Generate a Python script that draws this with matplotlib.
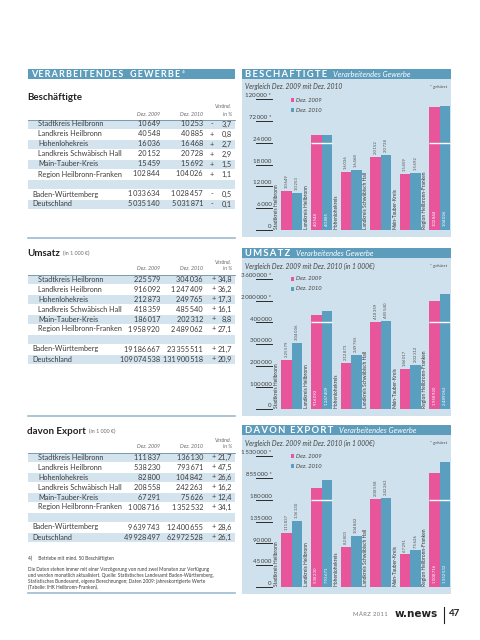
import matplotlib
matplotlib.use("Agg")
import matplotlib.pyplot as plt
import numpy as np
from matplotlib.patches import Rectangle

plt.rcParams['font.family'] = ['Liberation Sans Narrow', 'Lato', 'DejaVu Sans']

#_____Daten_____#
kreise = ["Stadtkreis Heilbronn", "Landkreis Heilbronn", "Hohenlohekreis",
          "Landkreis Schwäbisch Hall", "Main-Tauber-Kreis", "Region Heilbronn-Franken"]
laender = ["Baden-Württemberg", "Deutschland"]

besch_2009 = [10649, 40548, 16036, 20152, 15459, 102844, 1033634, 5035140]
besch_2010 = [10253, 40885, 16468, 20728, 15692, 104026, 1028457, 5031871]
besch_pct = [-3.7, 0.8, 2.7, 2.9, 1.5, 1.1, -0.5, -0.1]

umsatz_2009 = [225579, 916092, 212873, 418359, 186017, 1958920, 19186667, 109074538]
umsatz_2010 = [304036, 1247409, 249765, 485540, 202312, 2489062, 23355511, 131900518]
umsatz_pct = [34.8, 36.2, 17.3, 16.1, 8.8, 27.1, 21.7, 20.9]

export_2009 = [111837, 538230, 82800, 208558, 67291, 1008716, 9639743, 49928497]
export_2010 = [136130, 793671, 104842, 242263, 75626, 1352532, 12400655, 62972528]
export_pct = [21.7, 47.5, 26.6, 16.2, 12.4, 34.1, 28.6, 26.1]

# Achsen "gekürzt": die letzten zwei Ticks sind gestaucht
besch_ticks = [0, 6000, 12000, 18000, 24000, 72000, 120000]
umsatz_ticks = [0, 100000, 200000, 300000, 400000, 2000000, 3600000]
export_ticks = [0, 45000, 90000, 135000, 180000, 855000, 1530000]

#_____Farben_____#
HEAD = "#5e9cbb"
BG = "#cfe1ec"
STRIPE = "#d3e4ef"
PINK = "#e8559b"
BLUE = "#5a9fc0"
TXT = "#3c3c3c"
GRAY = "#6a6a6a"


def fmt(v):
    return "{:,}".format(int(v)).replace(",", "\u2009")


def spaced(s, sep="\u2009"):
    return sep.join(s)


fig = plt.figure(figsize=(4.8, 6.4), dpi=100)
page = fig.add_axes([0, 0, 1, 1])
page.set_xlim(0, 480)
page.set_ylim(640, 0)
page.axis("off")


#_____Tabellen links_____#
def draw_table(ty, title, unit, v09, v10, pct, sign_x):
    t = page.text(27, ty, title, fontsize=7, fontweight="bold", va="center", color="#222")
    if unit:
        page.annotate(unit, xy=(1, 0.15), xycoords=t, xytext=(2, 0), textcoords="offset points",
                      fontsize=3.8, va="bottom", color=GRAY)
    page.text(160, ty + 16, "Dez. 2009", ha="right", va="center", fontsize=3.8, style="italic", color=GRAY)
    page.text(203, ty + 16, "Dez. 2010", ha="right", va="center", fontsize=3.8, style="italic", color=GRAY)
    page.text(232, ty + 9, "Veränd.", ha="right", va="center", fontsize=3.8, style="italic", color=GRAY)
    page.text(232, ty + 16, "in %", ha="right", va="center", fontsize=3.8, style="italic", color=GRAY)
    page.plot([28, 235], [ty + 21.5, ty + 21.5], color="#6d8ea3", lw=0.6)
    y0 = ty + 26
    for r in (0, 2, 4, 6, 8):
        page.add_patch(Rectangle((28, y0 + 10 * r - 4.5), 207, 9, color=STRIPE, lw=0))
    names = kreise + [""] + laender
    vals09 = v09[:6] + [None] + v09[6:]
    vals10 = v10[:6] + [None] + v10[6:]
    pcts = pct[:6] + [None] + pct[6:]
    for r, name in enumerate(names):
        if not name:
            continue
        yc = y0 + 10 * r
        page.text(38 if r < 6 else 32, yc, name, va="center", fontsize=5.2, color=TXT)
        page.text(160, yc, fmt(vals09[r]), ha="right", va="center", fontsize=5.3, color=TXT)
        page.text(203, yc, fmt(vals10[r]), ha="right", va="center", fontsize=5.3, color=TXT)
        p = pcts[r]
        page.text(sign_x, yc, "+" if p >= 0 else "-", ha="center", va="center", fontsize=5.3, color=TXT)
        page.text(232, yc, ("%.1f" % abs(p)).replace(".", ","), ha="right", va="center",
                  fontsize=5.3, color=TXT)


page.add_patch(Rectangle((28, 69), 207, 10, color=HEAD, lw=0))
ht = page.text(31, 74.5, spaced("VERARBEITENDES") + "   " + spaced("GEWERBE"), fontsize=6.5,
               fontweight="bold", color="white", va="center")
page.annotate("4)", xy=(1, 0.6), xycoords=ht, xytext=(1.5, 0), textcoords="offset points",
              fontsize=3, color="white", va="bottom")

draw_table(98, "Beschäftigte", None, besch_2009, besch_2010, besch_pct, 212)
page.plot([28, 235], [238, 238], color="#9bbbcf", lw=1.2)
draw_table(253, "Umsatz", "(in 1 000 €)", umsatz_2009, umsatz_2010, umsatz_pct, 213.5)
page.plot([28, 235], [416, 416], color="#9bbbcf", lw=1.2)
draw_table(431, "davon Export", "(in 1 000 €)", export_2009, export_2010, export_pct, 213.5)

page.text(28, 558, "4)     Betriebe mit mind. 50 Beschäftigten", fontsize=3.4, va="center", color=TXT)
fussnote = ["Die Daten stehen immer mit einer Verzögerung von rund zwei Monaten zur Verfügung",
            "und werden monatlich aktualisiert. Quelle: Statistisches Landesamt Baden-Württemberg,",
            "Statistisches Bundesamt, eigene Berechnungen; Daten 2009: jahreskorrigierte Werte",
            "(Tabelle: IHK Heilbronn-Franken)."]
for k, line in enumerate(fussnote):
    page.text(28, 569 + 6 * k, line, fontsize=3.4, va="center", color=TXT)
page.plot([28, 235], [593, 593], color="#9bbbcf", lw=1.2)


#_____Diagramme rechts_____#
def draw_chart(top, base, tick_top, title, subtitle, ticks, v09, v10):
    page.add_patch(Rectangle((242, top), 209, 10, color=HEAD, lw=0))
    page.add_patch(Rectangle((242, top + 10), 209, base + 7 - top - 10, color=BG, lw=0))
    t = page.text(245, top + 5.5, spaced(title), fontsize=6.8, fontweight="bold", color="white", va="center")
    page.annotate("Verarbeitendes Gewerbe", xy=(1, 0.5), xycoords=t, xytext=(4, 0),
                  textcoords="offset points", fontsize=5.4, style="italic", color="white", va="center")
    page.text(245, top + 18, subtitle, fontsize=4.8, style="italic", color="#444", va="center")
    page.text(447, top + 18, "* gekürzt", fontsize=3.2, color="#555", ha="right", va="center")
    for k, (lab, col) in enumerate((("Dez. 2009", PINK), ("Dez. 2010", BLUE))):
        yl = top + 31 + 10 * k
        page.add_patch(Rectangle((290.5, yl - 1.6), 3.2, 3.2, color=col, lw=0))
        page.text(296, yl, lab, fontsize=4.2, style="italic", color="#444", va="center")

    ax = fig.add_axes([242 / 480, 1 - base / 640, 209 / 480, (base - tick_top) / 640])
    ax.patch.set_alpha(0)
    tv = np.array(ticks, dtype=float)
    ti = np.arange(len(ticks), dtype=float)
    ax.set_yscale("function", functions=(lambda v: np.interp(v, tv, ti), lambda u: np.interp(u, ti, tv)))
    ax.set_ylim(0, ticks[-1])
    ax.set_xlim(-1.689, 5.372)
    ax.axis("off")

    x = np.arange(6)
    w = 10.5 / 29.6
    ax.bar(x - w / 2, v09[:6], w, color=PINK, lw=0)
    ax.bar(x + w / 2, v10[:6], w, color=BLUE, lw=0)
    brk = ticks[4]
    tr = ax.get_yaxis_transform()
    for k, tk in enumerate(ticks):
        ax.plot([14 / 209, 30 / 209], [tk, tk], transform=tr, color="#2a2a2a", lw=0.7, clip_on=False)
        ax.annotate(fmt(tk) + (" *" if k > 4 else ""), (29.5 / 209, tk), xycoords=tr, xytext=(0, 0.6),
                    textcoords="offset points", ha="right", va="bottom", fontsize=4.4, color="#444")
    for i in range(6):
        # nur deutlich über dem Bruch liegende Balken werden gekürzt
        if max(v09[i], v10[i]) > 1.5 * brk:
            ax.hlines(brk, i - w, i + w, color="white", lw=1)
        ax.annotate(kreise[i], (i - 0.52, 0), xytext=(0, 1), textcoords="offset points", rotation=90,
                    ha="center", va="bottom", fontsize=3.5, color="#333")
        for off, v in ((-w / 2, v09[i]), (w / 2, v10[i])):
            if v > 1.5 * brk:
                ax.annotate(fmt(v), (i + off, 0), xytext=(0, 3), textcoords="offset points", rotation=90,
                            ha="center", va="bottom", fontsize=3.1, color="white")
            else:
                ax.annotate(fmt(v), (i + off, v), xytext=(0, 2), textcoords="offset points", rotation=90,
                            ha="center", va="bottom", fontsize=3.1, color="#555")


draw_chart(69, 230, 99, "BESCHÄFTIGTE", "Vergleich Dez. 2009 mit Dez. 2010",
           besch_ticks, besch_2009, besch_2010)
draw_chart(248, 409, 279, "UMSATZ", "Vergleich Dez. 2009 mit Dez. 2010 (in 1 000€)",
           umsatz_ticks, umsatz_2009, umsatz_2010)
draw_chart(425, 587, 456, "DAVON EXPORT", "Vergleich Dez. 2009 mit Dez. 2010 (in 1 000€)",
           export_ticks, export_2009, export_2010)

#_____Fusszeile_____#
page.text(388, 615, spaced("MÄRZ 2011", "\u200a"), fontsize=4.2, color="#777", va="center", ha="right")
page.text(395, 614, "w.news", fontsize=7.5, fontweight="bold", color="#222", va="center",
          family=["DejaVu Sans"])
page.plot([444, 444], [607, 623], color="#222", lw=0.8)
page.text(449, 614, "47", fontsize=7, fontweight="bold", color="#222", va="center")

fig.savefig("out.png", dpi=100)
